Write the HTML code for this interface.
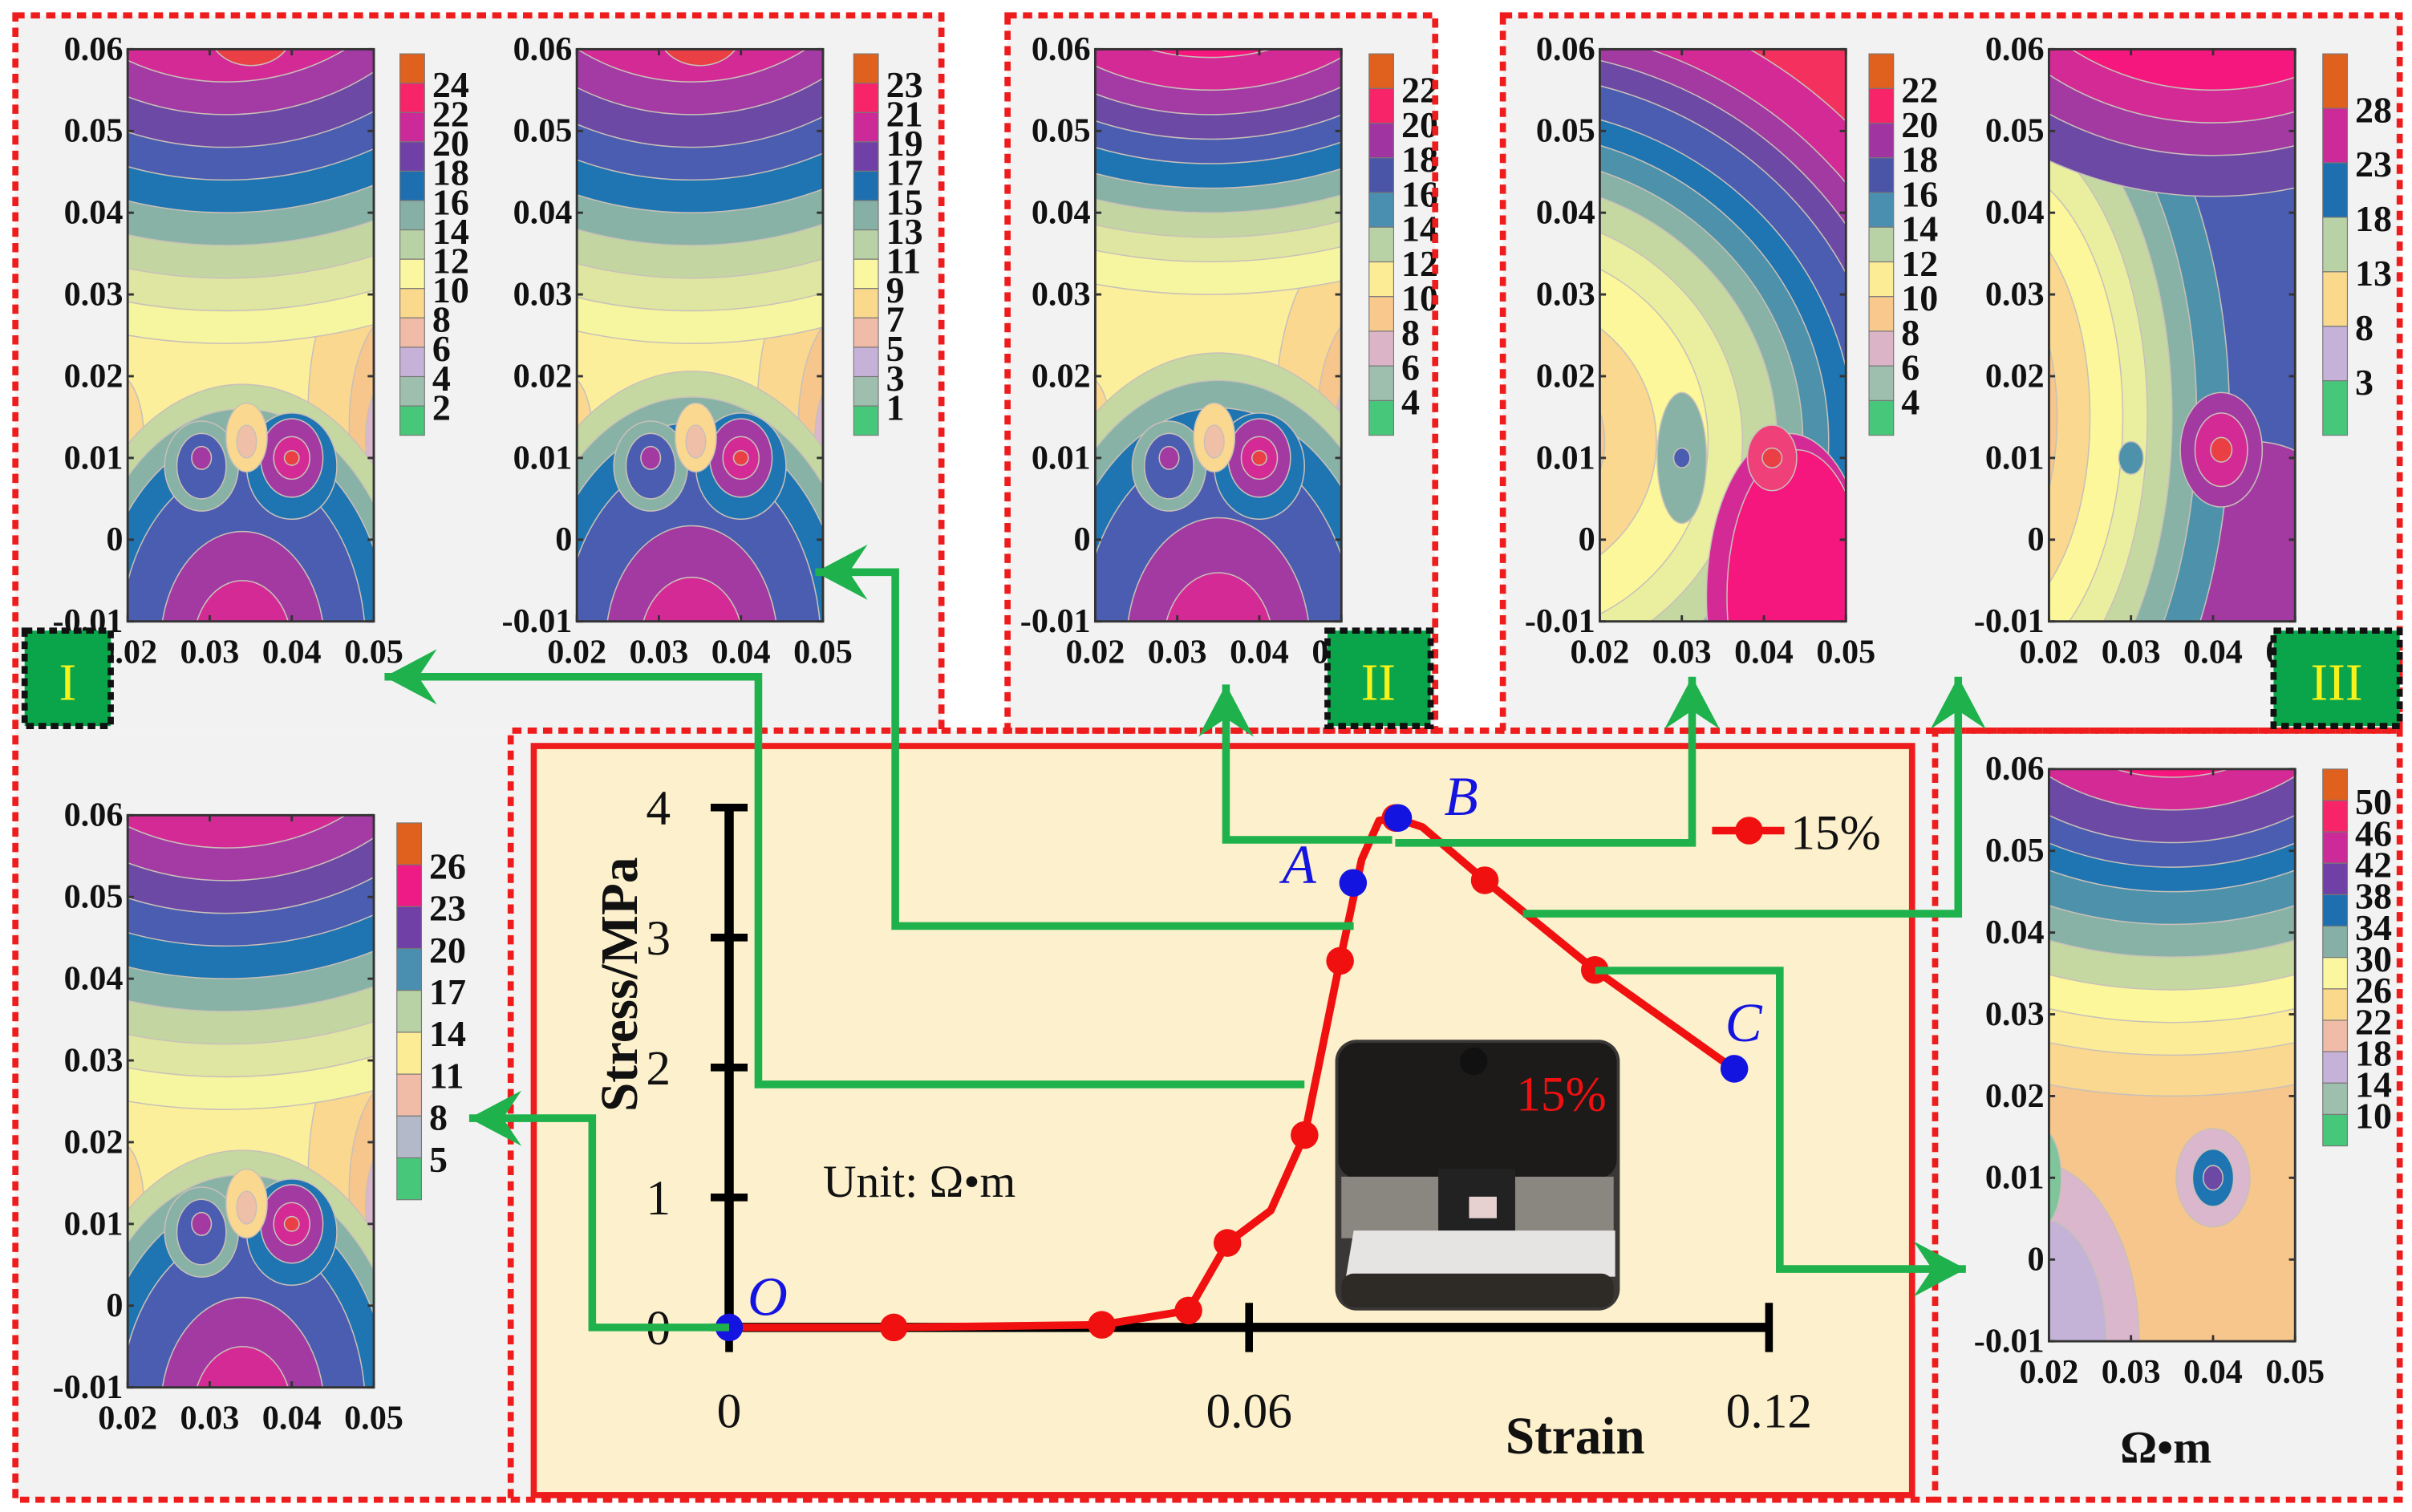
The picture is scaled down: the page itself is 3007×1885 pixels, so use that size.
<!DOCTYPE html>
<html><head><meta charset="utf-8"><style>
html,body{margin:0;padding:0;background:#fff;overflow:hidden;width:3007px;height:1885px}
svg{display:block}
text{font-family:"Liberation Serif",serif}
</style></head><body>
<svg id="root" xmlns="http://www.w3.org/2000/svg" width="3007" height="1885" viewBox="0 0 1568 983" preserveAspectRatio="none">
<defs id="defs"></defs>
<g id="panels">
  <rect x="10" y="10" width="602" height="465" fill="#f2f2f2"/>
  <rect x="10" y="475" width="322" height="500" fill="#f2f2f2"/>
  <rect x="655" y="10" width="278" height="465" fill="#f2f2f2"/>
  <rect x="977" y="10" width="583" height="465" fill="#f2f2f2"/>
  <rect x="1258" y="475" width="302" height="500" fill="#f2f2f2"/>
  <rect x="332" y="475" width="926" height="500" fill="#f2f2f2"/>
</g>
<g id="maps"></g>
<g id="chartbox">
  <rect x="347" y="485" width="896" height="487" fill="#fdf0cc" stroke="#ee1c1c" stroke-width="4"/>
</g>
<g id="borders" fill="none" stroke="#ee1c1c" stroke-width="4" stroke-dasharray="6 4">
  <path d="M10 10 H612 V475 H332 V975 H10 Z"/>
  <rect x="655" y="10" width="278" height="465"/>
  <rect x="977" y="10" width="583" height="465"/>
  <path d="M332 975 H1258"/>
  <path d="M612 475 H1258"/>
  <rect x="1258" y="475" width="302" height="500"/>
</g>
<g id="chart"></g>
<g id="arrows"></g>
<g id="labels">
  <rect x="16" y="410" width="56" height="62" fill="#0aa54a" stroke="#111" stroke-width="4" stroke-dasharray="5 3"/>
  <text x="44" y="455" font-size="34" fill="#f7f21a" text-anchor="middle">I</text>
  <rect x="863" y="410" width="67" height="62" fill="#0aa54a" stroke="#111" stroke-width="4" stroke-dasharray="5 3"/>
  <text x="896" y="455" font-size="34" fill="#f7f21a" text-anchor="middle">II</text>
  <rect x="1478" y="410" width="82" height="62" fill="#0aa54a" stroke="#111" stroke-width="4" stroke-dasharray="5 3"/>
  <text x="1519" y="455" font-size="34" fill="#f7f21a" text-anchor="middle">III</text>
  <text x="1408" y="951" font-size="30" font-weight="bold" text-anchor="middle" fill="#111">Ω•m</text>
</g>
</svg>
<script>
// ---- stress-strain chart data ----
const strain = [0, 0.019, 0.043, 0.053, 0.0575, 0.0625, 0.0664, 0.0705, 0.073, 0.075, 0.0769, 0.080, 0.0872, 0.0999, 0.1159];
const stress = [0, 0, 0.02, 0.13, 0.65, 0.9, 1.48, 2.82, 3.6, 3.9, 3.92, 3.85, 3.44, 2.75, 1.99];
const markerStrain = [0.019, 0.043, 0.053, 0.0575, 0.0664, 0.0705, 0.0769, 0.0872, 0.0999];
const markerStress = [0, 0.02, 0.13, 0.65, 1.48, 2.82, 3.92, 3.44, 2.75];
const pointNames = ["O", "A", "B", "C"];
const pointStrain = [0, 0.072, 0.0772, 0.116];
const pointStress = [0, 3.42, 3.92, 1.99];
const xTicks = [0, 0.06, 0.12];
const xTickLabels = ["0", "0.06", "0.12"];
const yTicks = [0, 1, 2, 3, 4];

const NS = "http://www.w3.org/2000/svg";
function mk(tag, attrs, parent){const e=document.createElementNS(NS,tag);for(const k in attrs)e.setAttribute(k,attrs[k]);if(parent)parent.appendChild(e);return e;}

const X0=474, Y0=863;
const sx = v => X0 + v/0.06*338;
const sy = v => Y0 - v*84.5;

const chart = document.getElementById('chart');
let ax = mk('line',{x1:sx(0),y1:Y0,x2:sx(0.12),y2:Y0,stroke:'#000','stroke-width':6},chart);
 
let ay = mk('line',{x1:X0,y1:sy(0),x2:X0,y2:sy(4),stroke:'#000','stroke-width':6},chart);
 
xTicks.forEach((t,i)=>{
  const l=mk('line',{x1:sx(t),y1:Y0-16,x2:sx(t),y2:Y0+16,stroke:'#000','stroke-width':5},chart);
   
  const tx=mk('text',{x:sx(t),y:928,'font-size':32,'text-anchor':'middle',fill:'#111'},chart);
  tx.textContent=xTickLabels[i];
   
});
yTicks.forEach(t=>{
  const l=mk('line',{x1:X0-12,y1:sy(t),x2:X0+12,y2:sy(t),stroke:'#000','stroke-width':5},chart);
   
  const tx=mk('text',{x:X0-46,y:sy(t)+11,'font-size':32,'text-anchor':'middle',fill:'#111'},chart);
  tx.textContent=String(t);
   
});
let yt=mk('text',{x:0,y:0,'font-size':34,'font-weight':'bold','text-anchor':'middle',fill:'#111',transform:'translate(414,640) rotate(-90)'},chart);
yt.textContent='Stress/MPa';  
let xt=mk('text',{x:1024,y:945,'font-size':34,'font-weight':'bold','text-anchor':'middle',fill:'#111'},chart);
xt.textContent='Strain';  
let ut=mk('text',{x:535,y:778,'font-size':30,fill:'#111'},chart);
ut.textContent='Unit: Ω•m';  

const ph=mk('g',{},chart);
 
mk('rect',{x:868,y:676,width:185,height:176,rx:14,fill:'#3a3836'},ph);
mk('rect',{x:870,y:678,width:181,height:88,rx:12,fill:'#1c1b1a'},ph);
mk('rect',{x:872,y:765,width:177,height:40,fill:'#8a8680'},ph);
mk('rect',{x:935,y:760,width:50,height:70,fill:'#222'},ph);
mk('polygon',{points:'880,800 1050,800 1050,830 875,830',fill:'#e6e4e2'},ph);
mk('rect',{x:872,y:828,width:177,height:22,rx:8,fill:'#2e2a26'},ph);
mk('rect',{x:955,y:778,width:18,height:14,fill:'#e7d0d0'},ph);
mk('circle',{cx:958,cy:690,r:9,fill:'#111'},ph);
let pt=mk('text',{x:1015,y:722,'font-size':32,fill:'#f01010','text-anchor':'middle'},ph);
pt.textContent='15%';  

let d = strain.map((s,i)=>(i?'L':'M')+sx(s).toFixed(1)+' '+sy(stress[i]).toFixed(1)).join(' ');
let cv=mk('path',{d:d,fill:'none',stroke:'#f01010','stroke-width':5,'stroke-linejoin':'round'},chart);
 
markerStrain.forEach((s,i)=>{
  const c=mk('circle',{cx:sx(s),cy:sy(markerStress[i]),r:9,fill:'#f01010'},chart);
   
});
const lblOff=[[12,-8],[-46,0],[30,-2],[-6,-18]];
pointNames.forEach((n,i)=>{
  const c=mk('circle',{cx:sx(pointStrain[i]),cy:sy(pointStress[i]),r:9,fill:'#1414e0'},chart);
   
  const t=mk('text',{x:sx(pointStrain[i])+lblOff[i][0],y:sy(pointStress[i])+lblOff[i][1],'font-size':36,'font-style':'italic',fill:'#1414e0'},chart);
  t.textContent=n;  
});
const lg=mk('g',{},chart);
 
mk('line',{x1:1113,y1:540,x2:1160,y2:540,stroke:'#f01010','stroke-width':5},lg);
mk('circle',{cx:1137,cy:540,r:9,fill:'#f01010'},lg);
let lt=mk('text',{x:1164,y:552,'font-size':32,fill:'#111'},lg); lt.textContent='15%';

// ---- arrows ----
const arrows=document.getElementById('arrows');
const G='#1fb14c';
function arrow(pts, dir, name){
  const g=mk('g',{},arrows);
   
  mk('polyline',{points:pts.map(p=>p.join(',')).join(' '),fill:'none',stroke:G,'stroke-width':5},g);
  const [x,y]=pts[pts.length-1];
  let poly;
  if(dir==='L') poly=`${x},${y} ${x+34},${y-18} ${x+22},${y} ${x+34},${y+18}`;
  if(dir==='R') poly=`${x},${y} ${x-34},${y-18} ${x-22},${y} ${x-34},${y+18}`;
  if(dir==='U') poly=`${x},${y} ${x-18},${y+34} ${x},${y+22} ${x+18},${y+34}`;
  mk('polygon',{points:poly,fill:G},g);
}
arrow([[474,863],[385,863],[385,727],[305,727]],'L','arrow-to-map-o');
arrow([[848,705],[493,705],[493,440],[250,440]],'L','arrow-to-map-i1');
arrow([[880,602],[582,602],[582,372],[530,372]],'L','arrow-to-map-i2');
arrow([[905,546],[797,546],[797,445]],'U','arrow-to-map-ii');
arrow([[907,548],[1100,548],[1100,440]],'U','arrow-to-map-iii1');
arrow([[990,594],[1273,594],[1273,440]],'U','arrow-to-map-iii2');
arrow([[1037,631],[1157,631],[1157,825],[1278,825]],'R','arrow-to-map-c');

// ---- contour maps ----
const C={red:'#ea3f45',pink:'#f5167e',mag:'#d42a96',pm:'#a23aa2',pur:'#6d49a6',bp:'#4b5db0',blue:'#1f74b2',teal:'#4d92aa',gt:'#88b2a6',gy:'#c5d8a2',ly:'#eaefa0',y:'#fbf79a',y2:'#fcec98',o1:'#fbd890',o2:'#f7c68c',o3:'#f0bfa8',lav:'#dab7cc',lav2:'#c4b3d6',grey:'#aebac6',g1:'#7fc49a'};
const PAL=['#47c77a','#7cc497','#9fbfae','#b3b9c9','#c6b1d8','#dcb4c8','#f0bca8','#f8c88c','#fbd98c','#fcec96','#fbf7a0','#dde5a2','#b9d2a5','#86afa6','#4a8fb0','#1d6fb0','#4a55a8','#7040a6','#a035a2','#cc2a98','#ee1a86','#f8246a','#e84040','#e0601e'];
const defs=document.getElementById('defs');
const mapsG=document.getElementById('maps');
function topBands(cx,cy,rys,cols,k){return rys.map((r,i)=>[cx,cy,r*k,r,cols[i]]);}
function drawMap(id,px,py,bg,layers,cb,labels){
  const W=160,H=372;
  const X=v=>px+(v-0.02)/0.03*W, Y=v=>py+(0.06-v)/0.07*H;
  const g=mk('g',{},mapsG);
   
  const cp=mk('clipPath',{id:'cp'+id},defs); mk('rect',{x:px,y:py,width:W,height:H},cp);
  const inner=mk('g',{'clip-path':'url(#cp'+id+')'},g);
  mk('rect',{x:px,y:py,width:W,height:H,fill:bg},inner);
  layers.forEach(l=>{mk('ellipse',{cx:X(l[0]),cy:Y(l[1]),rx:l[2]/0.03*W,ry:l[3]/0.07*H,fill:l[4],stroke:'#c8c0b8','stroke-width':0.8},inner);});
  mk('rect',{x:px,y:py,width:W,height:H,fill:'none',stroke:'#333','stroke-width':1.5},g);
  [0.06,0.05,0.04,0.03,0.02,0.01,0,-0.01].forEach(v=>{
    mk('line',{x1:px,y1:Y(v),x2:px+4,y2:Y(v),stroke:'#333','stroke-width':1.5},g);
    mk('line',{x1:px+W,y1:Y(v),x2:px+W-4,y2:Y(v),stroke:'#333','stroke-width':1.5},g);
    const t=mk('text',{x:px-3,y:Y(v)+7,'font-size':22,'font-weight':'bold','text-anchor':'end',fill:'#111'},g);
    t.textContent=v===0?'0':String(v);
     
  });
  [0.02,0.03,0.04,0.05].forEach(v=>{
    mk('line',{x1:X(v),y1:py,x2:X(v),y2:py+4,stroke:'#333','stroke-width':1.5},g);
    mk('line',{x1:X(v),y1:py+H,x2:X(v),y2:py+H-4,stroke:'#333','stroke-width':1.5},g);
    const t=mk('text',{x:X(v),y:py+H+27,'font-size':22,'font-weight':'bold','text-anchor':'middle',fill:'#111'},g);
    t.textContent=String(v);
     
  });
  const [bx,by0,by1]=cb; const nb=labels.length+1; const bh=(by1-by0)/nb;
  const cbg=mk('g',{},g);
   
  for(let i=0;i<nb;i++){
    const col=PAL[Math.round((nb-1-i)*23/(nb-1))];
    mk('rect',{x:bx,y:by0+i*bh,width:16,height:bh,fill:col,stroke:'#777','stroke-width':0.6},cbg);
  }
  labels.forEach((lab,i)=>{
    const t=mk('text',{x:bx+21,y:by0+(i+1)*bh+9,'font-size':24,'font-weight':'bold',fill:'#111'},cbg);
    t.textContent=String(lab);
  });
}
function seq(a,b,s){const r=[];for(let v=a;s>0?v<=b:v>=b;v+=s)r.push(v);return r;}
const topCols=['#f6f5a0','#dfe6a2','#c3d6a2','#88b2a6','#1f74b2','#4b5db0','#6d49a6','#a43aa4','#d42a96','#f5167e'];
function lobes(){return [
 [0.029,0.009,0.0045,0.0055,C.gt],[0.029,0.009,0.003,0.004,C.bp],[0.029,0.010,0.0012,0.0014,C.pm],
 [0.040,0.009,0.0055,0.0065,C.blue],[0.040,0.010,0.0038,0.0048,C.pm],[0.040,0.010,0.0022,0.0026,C.mag],[0.040,0.010,0.0009,0.0009,C.red],
 [0.0345,0.0125,0.0025,0.0042,C.o1],[0.0345,0.012,0.0012,0.002,C.o3]];}
function bottom(cx,s){return [[C.gy,.022,.032],[C.gt,.020,.029],[C.blue,.018,.026],[C.bp,.015,.022],[C.pm,.010,.014],[C.mag,.006,.008]].map(a=>[cx,-0.013,a[1]*s,a[2]*s,a[0]]);}
function sides(){return [[0.053,0.016,0.011,0.022,C.o1],[0.053,0.014,0.006,0.014,C.o2],[0.052,0.012,0.003,0.008,C.lav],[0.019,0.012,0.003,0.008,C.o1]];}

drawMap('i1',83,32,'#fcef9c',[...sides(),...topBands(0.032,0.078,[0.054,0.050,0.046,0.042,0.038,0.034,0.030,0.026,0.022,0.017],topCols,1.15),[0.035,0.062,0.005,0.004,C.red],...bottom(0.034,1),...lobes()],[260,35,283],seq(24,2,-2));
drawMap('i2',375,32,'#fcef9c',[...sides(),...topBands(0.034,0.078,[0.054,0.050,0.046,0.042,0.038,0.034,0.030,0.026,0.022,0.017],topCols,1.1),[0.035,0.062,0.005,0.004,C.red],...bottom(0.034,1.05),...lobes()],[555,35,283],seq(23,1,-2));
drawMap('ii',712,32,'#fcef9c',[...sides(),...topBands(0.034,0.076,[0.046,0.042,0.039,0.036,0.033,0.030,0.027,0.024,0.021,0.017],topCols,1.3),...bottom(0.035,1.12),...lobes()],[890,35,283],seq(22,4,-2));
drawMap('iii1',1040,32,C.pink,[[0.05,0.07,0.015,0.02,'#f4305e'],...[[C.mag,.056],[C.pm,.051],[C.pur,.048],[C.bp,.045],[C.blue,.041],[C.teal,.038],[C.gt,.035],[C.gy,.032],[C.ly,.028],[C.y,.024],[C.o1,.018],[C.o2,.012],[C.lav,.007],[C.grey,.004]].map(a=>[0.008,0.012,a[1]*1.05,a[1],a[0]]),[0.043,-0.007,0.010,0.020,C.mag],[0.044,-0.007,0.0085,0.018,C.pink],[0.041,0.010,0.003,0.004,'#f0407a'],[0.041,0.010,0.0012,0.0012,C.red],[0.030,0.010,0.003,0.008,C.gt],[0.030,0.010,0.001,0.0012,C.bp]],[1215,35,283],seq(22,4,-2));
drawMap('iii2',1332,32,C.bp,[[0.045,-0.01,0.016,0.022,C.pm],...[[C.teal,.029,.052],[C.gt,.025,.046],[C.gy,.022,.041],[C.ly,.019,.036],[C.y,.016,.031],[C.o1,.012,.025],[C.o2,.008,.018],[C.o3,.005,.011],[C.lav,.003,.007]].map(a=>[0.013,0.015,a[1],a[2],a[0]]),...topBands(0.040,0.082,[0.040,0.035,0.031,0.027,0.022],[C.pur,C.pm,C.mag,C.pink,'#f4305e'],1.1),[0.041,0.011,0.005,0.007,C.pm],[0.041,0.011,0.0032,0.0045,C.mag],[0.041,0.011,0.0013,0.0015,C.red],[0.030,0.010,0.0015,0.002,C.teal]],[1510,35,283],[28,23,18,13,8,3]);
drawMap('o',83,530,'#fcef9c',[...sides(),...topBands(0.032,0.078,[0.054,0.050,0.046,0.042,0.038,0.034,0.030,0.026,0.022,0.017],topCols,1.15),...bottom(0.034,1),...lobes()],[258,535,780],[26,23,20,17,14,11,8,5]);
drawMap('c',1332,500,C.o2,[[0.018,-0.01,0.013,0.022,C.lav],[0.019,-0.01,0.008,0.015,C.lav2],...topBands(0.035,0.076,[0.056,0.051,0.047,0.043,0.039,0.035,0.031,0.028,0.025,0.021,0.017],[C.o1,C.y2,C.y,C.gy,C.gt,C.teal,C.blue,C.bp,C.pur,C.mag,C.pink],1.2),[0.019,0.010,0.0025,0.006,C.g1],[0.040,0.010,0.0045,0.006,C.lav],[0.040,0.010,0.0025,0.0035,C.blue],[0.040,0.010,0.0012,0.0015,C.pur]],[1510,500,745],seq(50,10,-4));
</script>
</body></html>
